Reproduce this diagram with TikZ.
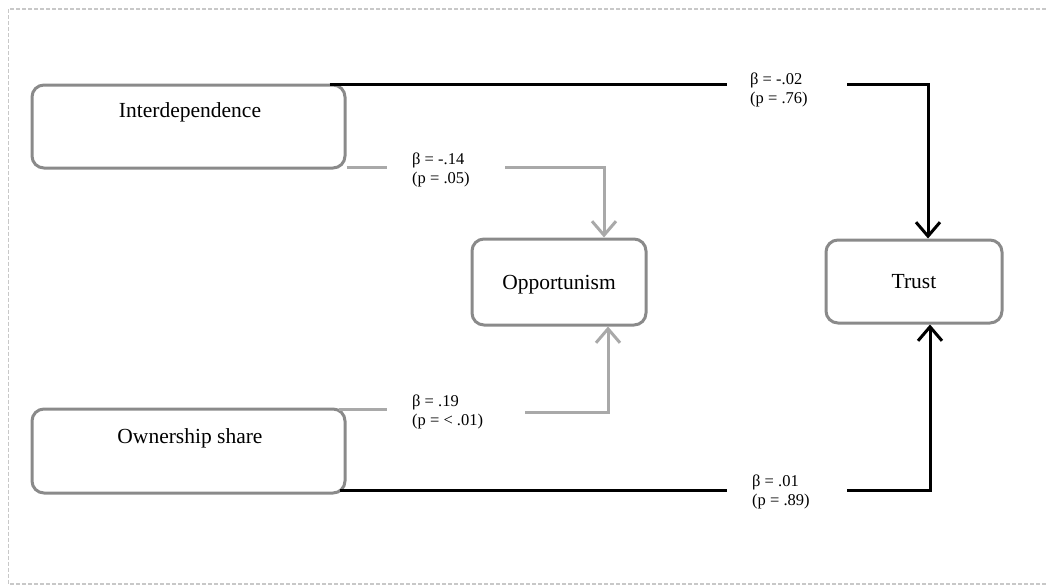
\documentclass[tikz,border=0pt]{standalone}
\usepackage{fontspec}
\setmainfont{Liberation Serif}
\usetikzlibrary{arrows.meta,calc}
\definecolor{boxgray}{HTML}{8A8A8A}
\definecolor{linkgray}{HTML}{A9A9A9}
\definecolor{framegray}{HTML}{C8C8C8}
\begin{document}
\begin{tikzpicture}[x=1pt,y=-1pt,
  box/.style={draw=boxgray,line width=3pt,rounded corners=12pt,inner sep=0pt},
  boxtext/.style={font=\fontsize{21.5}{26}\selectfont,inner sep=0pt},
  coef/.style={font=\fontsize{16.5}{19}\selectfont,align=left,anchor=north west,inner sep=0pt},
  strong/.style={draw=black,line width=3pt},
  weak/.style={draw=linkgray,line width=3pt},
  tip/.style={-{Straight Barb[length=14pt,width=24pt]}}
]
\useasboundingbox (0,0) rectangle (1046,586);

% dashed frame
\draw[framegray,line width=1.5pt,dash pattern=on 4pt off 2pt]
  (1046,9) -- (8.5,9) -- (8.5,584) -- (1046,584);

% constructs
\node[box,minimum width=313pt,minimum height=83pt] (inter) at (188.5,126.5) {};
\node[boxtext] (intertxt) at (190,112) {Interdependence};
\node[box,minimum width=313pt,minimum height=84pt] (own) at (188.5,451) {};
\node[boxtext] (owntxt) at (190,438) {Ownership share};
\node[box,minimum width=174pt,minimum height=86pt,text depth=0pt,
      font=\fontsize{21.5}{26}\selectfont] (opp) at (559,282) {Opportunism};
\node[box,minimum width=176pt,minimum height=83pt,text depth=0pt,
      font=\fontsize{21.5}{26}\selectfont] (trust) at (914,281.5) {Trust};

% path coefficients
\node[coef] (l1) at (750,73) {β = -.02\\(p = .76)};
\node[coef] (l2) at (412,153) {β = -.14\\(p = .05)};
\node[coef] (l3) at (412,395) {β = .19\\(p = < .01)};
\node[coef] (l4) at (752,475) {β = .01\\(p = .89)};

% interdependence -> trust
\coordinate (c1) at (727,84);
\coordinate (c2) at (847,84);
\coordinate (c3) at (928,84);
\draw[strong] ($(c1 -| inter.east)+(-17,0)$) -- (c1);
\draw[strong,tip] (c2) -- (c3) -- (c3 |- trust.north);

% interdependence -> opportunism
\coordinate (g1) at (387,167);
\coordinate (g2) at (505,167);
\coordinate (g3) at (604,167);
\draw[weak] (g1 -| inter.east) -- (g1);
\draw[weak,tip] (g2) -- (g3) -- (g3 |- opp.north);

% ownership share -> opportunism
\coordinate (h1) at (387,409);
\coordinate (h2) at (525,412);
\coordinate (h3) at (608,412);
\draw[weak] ($(h1 -| own.east)+(-8,0)$) -- (h1);
\draw[weak,tip] (h2) -- (h3) -- (h3 |- opp.south);

% ownership share -> trust
\coordinate (k1) at (727,490);
\coordinate (k2) at (847,490);
\coordinate (k3) at (930,490);
\draw[strong] ($(k1 -| own.east)+(-7,0)$) -- (k1);
\draw[strong,tip] (k2) -- (k3) -- (k3 |- trust.south);
\end{tikzpicture}
\end{document}
